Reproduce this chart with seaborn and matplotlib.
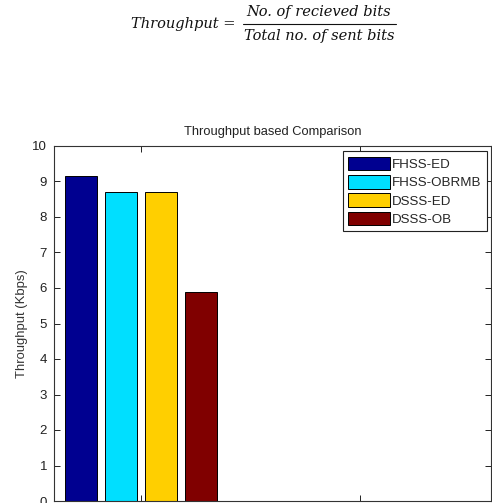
import matplotlib
matplotlib.use("Agg")
import matplotlib.pyplot as plt
import seaborn as sns
import pandas as pd
from matplotlib.lines import Line2D

# ---- data ----
groups = ["1", "2"]
series = ["FHSS-ED", "FHSS-OBRMB", "DSSS-ED", "DSSS-OB"]
throughput = [9.15, 8.70, 8.70, 5.88]
colors = ["#000090", "#00DFFF", "#FFCF00", "#800000"]
yticks = [0, 1, 2, 3, 4, 5, 6, 7, 8, 9, 10]

df = pd.DataFrame({"group": ["1"] * len(series), "series": series, "value": throughput})

sns.set_theme(style="white")
plt.rcParams["font.family"] = ["Liberation Sans", "DejaVu Sans"]

fig = plt.figure(figsize=(4.92, 5.03), dpi=100)
ax = fig.add_axes([54 / 492, 1 - 501 / 503, 437 / 492, 355 / 503])

sns.barplot(data=df, x="group", y="value", hue="series", order=groups,
            hue_order=series, palette=colors, width=0.732, gap=0.19,
            edgecolor="black", linewidth=0.7, saturation=1, ax=ax)

ax.set_xlim(-0.397, 1.6)
ax.set_ylim(0, 10)
ax.set_yticks(yticks)
ax.set_yticklabels([str(t) for t in yticks])
ax.set_xticklabels(["", ""])
ax.set_xlabel("")
ax.set_ylabel("Throughput (Kbps)", fontsize=9.4, color="#333333", labelpad=3)
ax.set_title("Throughput based Comparison", fontsize=9.3, color="#222222", pad=8)
ax.tick_params(axis="both", direction="in", length=4, width=0.7, colors="#222222",
               labelsize=9.5, top=True, right=True, bottom=True, left=True, pad=5)
for s in ax.spines.values():
    s.set_visible(True)
    s.set_color("#333333")
    s.set_linewidth(0.8)

handles, labels = ax.get_legend_handles_labels()
leg = ax.legend(handles, labels, loc="upper right", bbox_to_anchor=(0.99, 0.985),
                borderaxespad=0, fontsize=9.6, handlelength=3.1, handleheight=1.2,
                labelspacing=0.3, handletextpad=0.15, borderpad=0.4,
                fancybox=False, framealpha=1, edgecolor="#222222")
leg.get_frame().set_linewidth(0.8)

# ---- formula ----
ffam = ["DejaVu Serif"]
fig.text(183 / 492, 1 - 24 / 503, "Throughput =", ha="center", va="center",
         fontsize=10.5, style="italic", family=ffam, color="#111111")
fig.text(319 / 492, 1 - 12 / 503, "No. of recieved bits", ha="center", va="center",
         fontsize=10.5, style="italic", family=ffam, color="#111111")
fig.text(319 / 492, 1 - 36 / 503, "Total no. of sent bits", ha="center", va="center",
         fontsize=10.5, style="italic", family=ffam, color="#111111")
fig.add_artist(Line2D([243 / 492, 396 / 492], [1 - 24 / 503, 1 - 24 / 503],
                      transform=fig.transFigure, color="#111111", linewidth=0.8))

fig.savefig("out.png", dpi=100)
